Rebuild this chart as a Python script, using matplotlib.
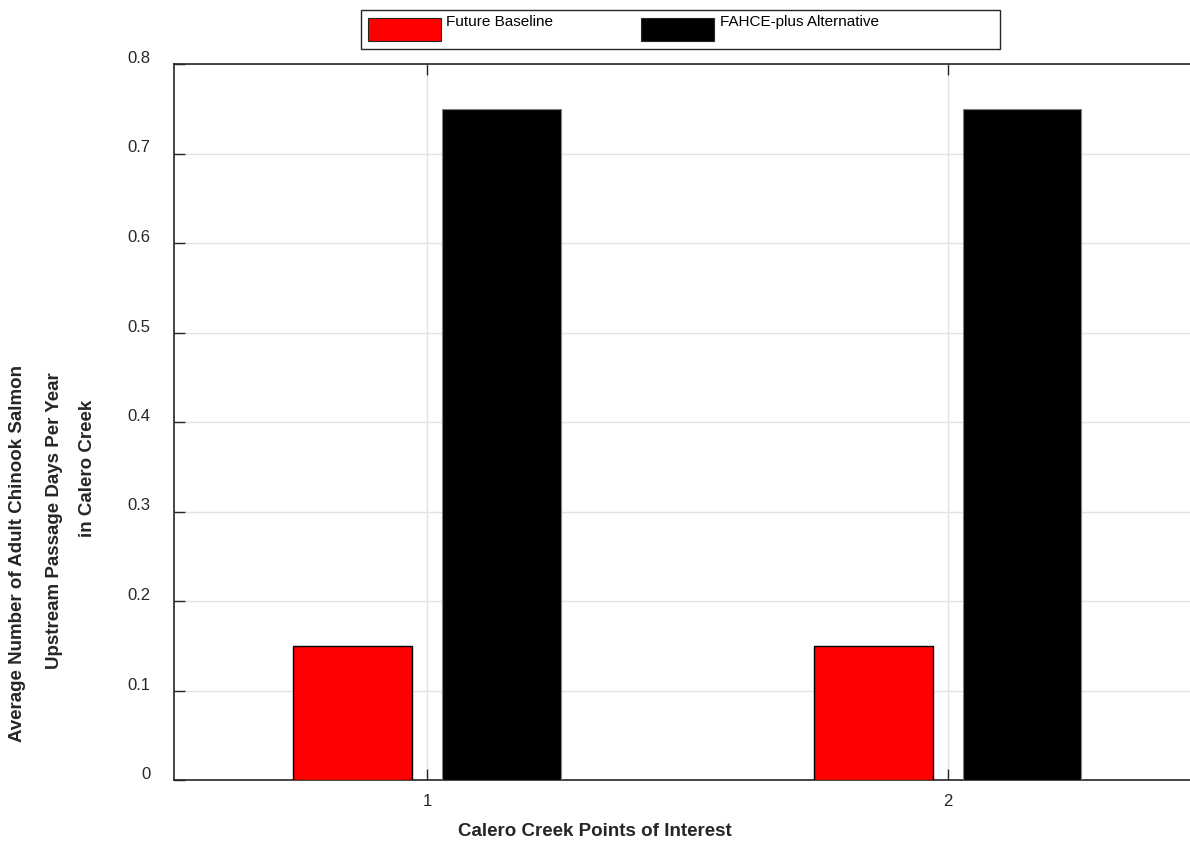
import numpy as np
import matplotlib
matplotlib.use('Agg')
import matplotlib.pyplot as plt
from matplotlib.patches import Rectangle
from matplotlib.transforms import ScaledTranslation

# values
points = [1, 2]
future_baseline = [0.15, 0.15]
fahce_plus = [0.75, 0.75]
series_labels = ['Future Baseline', 'FAHCE-plus Alternative']
series_colors = ['#ff0000', '#000000']
y_ticks = [0, 0.1, 0.2, 0.3, 0.4, 0.5, 0.6, 0.7, 0.8]
y_tick_labels = ['0', '0.1', '0.2', '0.3', '0.4', '0.5', '0.6', '0.7', '0.8']
ylabel_lines = ['Average Number of Adult Chinook Salmon',
                'Upstream Passage Days Per Year',
                'in Calero Creek']
xlabel = 'Calero Creek Points of Interest'

W, H = 1190, 842
DPI = 100
plt.rcParams['font.family'] = ['Liberation Sans', 'DejaVu Sans']

fig = plt.figure(figsize=(W / DPI, H / DPI), dpi=DPI)

# axes: left spine at x=174, bottom at y=780, top at y=64; right edge runs past the image
ax_left, ax_right, ax_top, ax_bottom = 174, 1208, 64, 780
ax = fig.add_axes([ax_left / W, (H - ax_bottom) / H,
                   (ax_right - ax_left) / W, (ax_bottom - ax_top) / H])

x = np.array(points, dtype=float)
bar_w = 0.228
offset = 0.143
b1 = ax.bar(x - offset, future_baseline, bar_w, color=series_colors[0],
            edgecolor='black', linewidth=1.0, zorder=3)
b2 = ax.bar(x + offset, fahce_plus, bar_w, color=series_colors[1],
            edgecolor='#808080', linewidth=0.8, zorder=3)

ax.set_xlim(0.514, 2.5)
ax.set_ylim(0, 0.8)
ax.set_xticks(points)
ax.set_xticklabels([str(p) for p in points])
ax.set_yticks(y_ticks)
ax.set_yticklabels(y_tick_labels)

ax.grid(True, color='#e3e3e3', linewidth=1.0, zorder=0)
ax.set_axisbelow(True)

for side in ['left', 'bottom', 'top', 'right']:
    ax.spines[side].set_color('#262626')
    ax.spines[side].set_linewidth(1.2)

ax.tick_params(axis='both', direction='in', length=8, width=1.0, color='#262626',
               labelsize=12, labelcolor='#262626', top=True, right=True)
ax.tick_params(axis='y', pad=17)
ax.tick_params(axis='x', pad=10)

# MATLAB-style y tick labels sit a bit above their ticks
shift = ScaledTranslation(0, 7 / DPI, fig.dpi_scale_trans)
for lab in ax.get_yticklabels():
    lab.set_transform(lab.get_transform() + shift)

# y label as three separately placed bold lines
ylab_x = [18, 55, 88]
ylab_y = [553, 521, 468]
for txt, lx, ly in zip(ylabel_lines, ylab_x, ylab_y):
    fig.text(lx / W, 1 - ly / H, txt, rotation=90, ha='center', va='center',
             fontsize=13.5, fontweight='bold', color='#262626')

fig.text(595 / W, 1 - 832 / H, xlabel, ha='center', va='center',
         fontsize=13.5, fontweight='bold', color='#262626')

# legend box drawn at the top, above the axes
def fx(px):
    return px / W

def fy(py):
    return 1 - py / H

fig.add_artist(Rectangle((fx(361), fy(49)), fx(1000) - fx(361), fy(10) - fy(49),
                         transform=fig.transFigure, facecolor='white',
                         edgecolor='#262626', linewidth=1.0))
patch_x = [368, 641]
text_x = [446, 720]
for bars, lbl, px, tx in zip([b1, b2], series_labels, patch_x, text_x):
    fig.add_artist(Rectangle((fx(px), fy(41)), fx(px + 73) - fx(px), fy(18) - fy(41),
                             transform=fig.transFigure,
                             facecolor=bars.patches[0].get_facecolor(),
                             edgecolor='#262626', linewidth=0.8))
    fig.text(fx(tx), fy(15), lbl, ha='left', va='top', fontsize=11, color='black')

fig.savefig('out.png', dpi=DPI)
